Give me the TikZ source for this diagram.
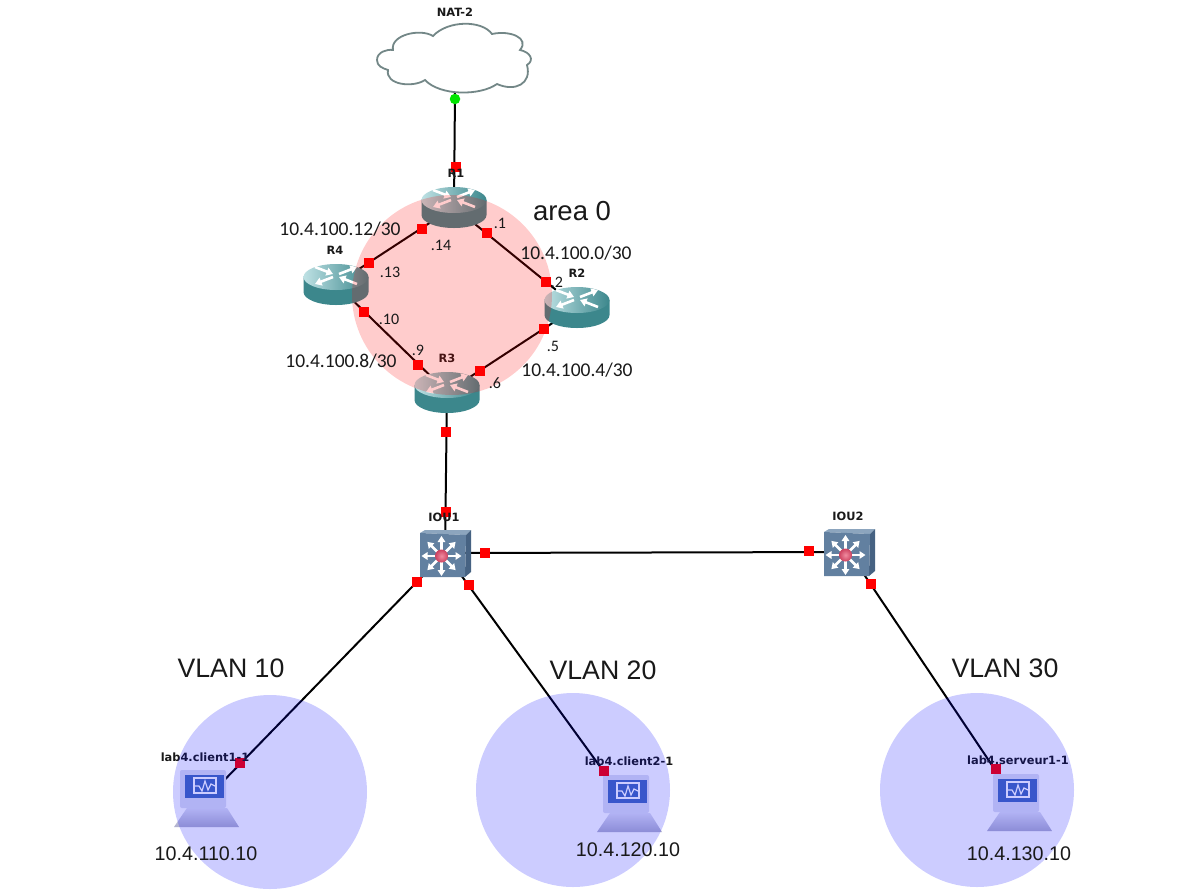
\documentclass[tikz,border=0pt]{standalone}
\usepackage{fontspec}
\setmainfont{Liberation Sans}
\newfontfamily\calibf{Carlito}
\newfontfamily\devf{DejaVu Sans}
\usetikzlibrary{arrows.meta}
\definecolor{teal1}{RGB}{60,135,140}
\definecolor{teal2}{RGB}{190,225,228}
\definecolor{steel}{RGB}{98,128,160}
\definecolor{steeld}{RGB}{70,98,130}
\definecolor{steell}{RGB}{140,165,190}
\definecolor{cloudline}{RGB}{115,135,135}
\definecolor{scr}{RGB}{70,108,190}
\definecolor{lav}{RGB}{222,224,242}
\definecolor{lavd}{RGB}{175,175,205}
\definecolor{ballin}{RGB}{240,140,160}
\definecolor{ballout}{RGB}{205,65,95}
\tikzset{
  hub/.style={inner sep=0pt,minimum size=0pt},
  port/.style={fill=red,draw=none,inner sep=0pt,minimum size=10.5pt},
  okport/.style={circle,fill=green!90!black,draw=none,inner sep=0pt,minimum size=10.5pt},
  wire/.style={draw=black,line width=2pt},
  devname/.style={font=\devf\bfseries\fontsize{11.4}{13}\selectfont,text=black!90,inner sep=0pt},
  netaddr/.style={font=\calibf\fontsize{19.5}{22}\selectfont,inner sep=0pt,text=black!90},
  hostip/.style={font=\fontsize{19.7}{22}\selectfont,inner sep=0pt,text=black!90},
  zonename/.style={font=\fontsize{26.7}{30}\selectfont,inner sep=0pt,text=black!90},
  areaname/.style={font=\fontsize{27.5}{30}\selectfont,inner sep=0pt,text=black!90},
  hopaddr/.style={font=\calibf\fontsize{16}{18}\selectfont,inner sep=0pt,text=black!90},
  wa/.style={draw=white,line width=2.6pt,-{Triangle[width=8pt,length=6.5pt]}},
  areaz/.style={fill=red,fill opacity=0.2,draw=none},
  vlanz/.style={fill=blue,fill opacity=0.2,draw=none},
  router/.pic={
    \fill[teal1] (-32.5,-7) -- (-32.5,8) arc[start angle=180,end angle=360,x radius=32.5,y radius=-13] -- (32.5,-7) -- cycle;
    \shade[left color=teal2,right color=teal1] (0,-7) ellipse[x radius=32.5,y radius=13];
    \draw[wa] (-21,-17) -- (-3,-10);
    \draw[wa] (3,-10) -- (21,-17);
    \draw[wa] (-3,-7) -- (-21,0);
    \draw[wa] (21,0) -- (3,-7);
  },
  switchicon/.pic={
    \fill[steell] (-25,-20) -- (-20,-23) -- (26,-23) -- (21,-18) -- cycle;
    \fill[steeld] (21,-18) -- (26,-23) -- (26,19) -- (20,24) -- cycle;
    \fill[steel] (-25,-20) -- (21,-18) -- (20,24) -- (-25,24) -- cycle;
    \foreach \a in {0,45,...,315}{
      \draw[white,line width=2.6pt,-{Triangle[width=7.5pt,length=6pt]}] (-3.5,3) ++(\a:5) -- ++(\a:15);
    }
    \shade[inner color=ballin,outer color=ballout] (-3.5,3) circle[radius=6.5];
  },
  pcicon/.pic={
    \shade[top color=lav,bottom color=lavd] (-18,8) -- (22,8) -- (34,27) -- (-31,27) -- cycle;
    \fill[lav,rounded corners=2pt] (-25,-30) -- (21,-30) -- (21,8) -- (-25,8) -- cycle;
    \fill[scr] (-20,-25) rectangle (19,-2);
    \draw[white,line width=1.2pt] (-11,-22) rectangle (11,-7);
    \draw[white,line width=1.2pt] (-10,-14) -- (-6,-14) -- (-3,-9) -- (0,-19) -- (3,-10) -- (6,-16) -- (10,-14);
  }
}
\begin{document}
\begin{tikzpicture}[x=1pt,y=-1pt]
\useasboundingbox (0,0) rectangle (1191,895);
\fill[white] (0,0) rectangle (1191,895);
% devices
\node[hub] (nat) at (455,60) {};
\node[hub] (natb) at (455,92) {};
\node[hub] (R1) at (454,207) {};
\node[hub] (R2) at (577,307) {};
\node[hub] (R3) at (447,392) {};
\node[hub] (R4) at (336,284) {};
\node[hub] (IOU1) at (445,553) {};
\node[hub] (IOU2) at (849,552) {};
\node[hub] (C1) at (205,800) {};
\node[hub] (C2) at (628,805) {};
\node[hub] (S1) at (1018,804) {};
% connectors
\draw[wire] (natb) -- (R1);
\draw[wire] (R1) -- (R2);
\draw[wire] (R2) -- (R3);
\draw[wire] (R3) -- (R4);
\draw[wire] (R4) -- (R1);
\draw[wire] (R3) -- (IOU1);
\draw[wire] (IOU1) -- (IOU2);
\draw[wire] (IOU1) -- (C1);
\draw[wire] (IOU1) -- (C2);
\draw[wire] (IOU2) -- (S1);
% cloud
\filldraw[fill=white,draw=cloudline,line width=1.8pt]
 (377,60) .. controls (377,52) and (387,49) .. (393,50)
 .. controls (390,35) and (420,28) .. (433,36)
 .. controls (448,20) and (482,20) .. (492,34)
 .. controls (510,30) and (530,38) .. (520,50)
 .. controls (530,52) and (535,60) .. (527,65)
 .. controls (532,84) and (515,92) .. (497,84)
 .. controls (480,96) and (440,96) .. (425,80)
 .. controls (413,88) and (385,85) .. (388,70)
 .. controls (382,68) and (377,66) .. (377,60) -- cycle;
% icons
\pic at (R1) {router};
\pic at (R2) {router};
\pic at (R3) {router};
\pic at (R4) {router};
\pic at (IOU1) {switchicon};
\pic at (IOU2) {switchicon};
\pic at (C1) {pcicon};
\pic at (C2) {pcicon};
\pic at (S1) {pcicon};
% ports
\node[okport] (pn) at (455,99) {};
\foreach \n/\x/\y in {a/456/167,b/422/229,c/487/233,d/369/263,e/546/282,f/364/312,g/544/329,h/418/365,i/480/371,j/446/432,k/446/512,l/485/553,m/809/551,n/417/582,o/469/585,p/871/584,q/240/763,r/604/771,s/996/769}
  \node[port] (p\n) at (\x,\y) {};
% device names
\node[devname] (tnat) at (455,12) {NAT-2};
\node[devname] (tr1) at (456,173) {R1};
\node[devname] (tr4) at (335,250) {R4};
\node[devname] (tr2) at (577,273) {R2};
\node[devname] (tr3) at (447,358) {R3};
\node[devname] (ti1) at (444,517) {IOU1};
\node[devname] (ti2) at (848,516) {IOU2};
\node[devname] (tc1) at (205,757) {lab4.client1-1};
\node[devname] (tc2) at (629,761) {lab4.client2-1};
\node[devname] (ts1) at (1018,760) {lab4.serveur1-1};
% translucent zones
\fill[areaz] (452,295) circle[radius=100];
\fill[vlanz] (270,792) circle[radius=97];
\fill[vlanz] (573,790) circle[radius=97];
\fill[vlanz] (977,790) circle[radius=97];
% texts
\node[netaddr] (n12) at (340,229) {10.4.100.12/30};
\node[netaddr] (n0) at (576,253) {10.4.100.0/30};
\node[netaddr] (n8) at (341,361) {10.4.100.8/30};
\node[netaddr] (n4) at (577,370) {10.4.100.4/30};
\foreach \tx/\x/\y/\m in {.14/441/245/a,.1/500/223/b,.2/557/282/c,.13/390/272/d,.10/389/319/e,.9/418/350/f,.5/553/346/g,.6/495/383/h}
  \node[hopaddr] (d\m) at (\x,\y) {\tx};
\node[areaname] (z0) at (572,211) {area 0};
\node[zonename] (z1) at (231,668) {VLAN 10};
\node[zonename] (z2) at (603,670) {VLAN 20};
\node[zonename] (z3) at (1005,668) {VLAN 30};
\node[hostip] (i1) at (206,854) {10.4.110.10};
\node[hostip] (i2) at (628,850) {10.4.120.10};
\node[hostip] (i3) at (1019,854) {10.4.130.10};
\end{tikzpicture}
\end{document}
